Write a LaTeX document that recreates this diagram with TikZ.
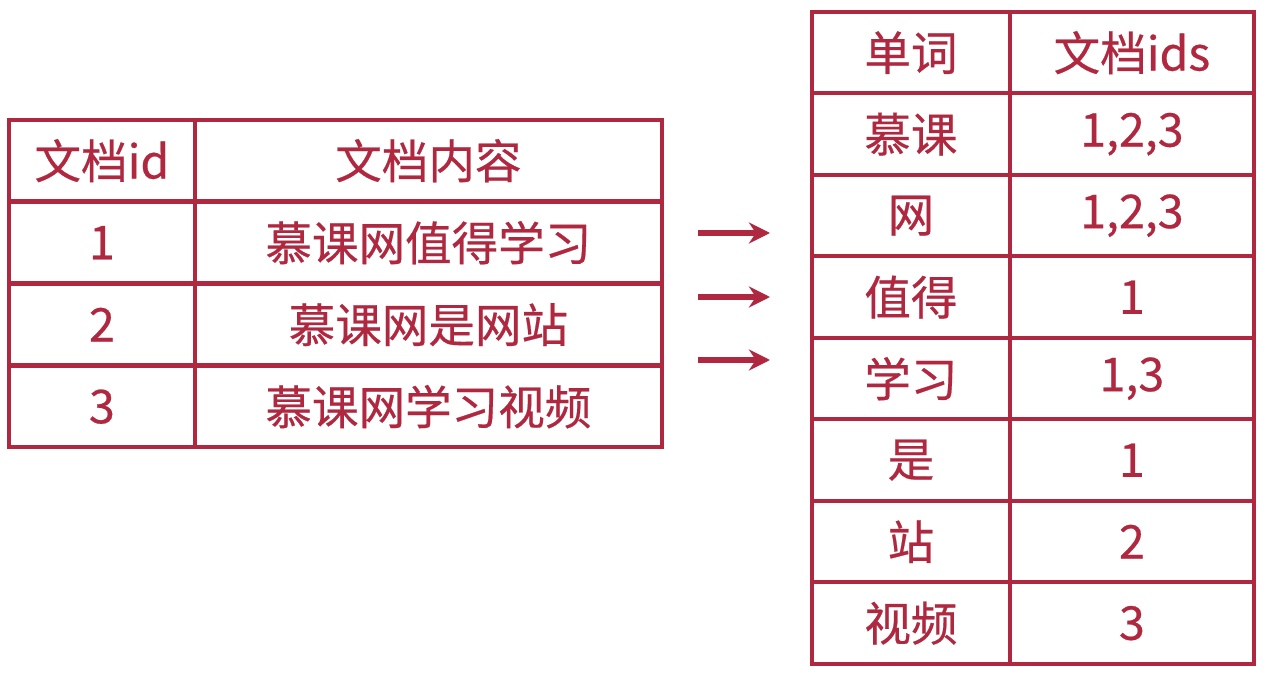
\documentclass[tikz,border=0pt]{standalone}
\usepackage{fontspec}
\setmainfont{Noto Sans CJK SC}[FakeBold=0.5]
\usetikzlibrary{arrows.meta}
\definecolor{wine}{HTML}{B0283F}
\tikzset{
  cell/.style={draw=wine, line width=2.2pt, text=wine, font=\fontsize{26.5}{28}\selectfont,
    minimum height=1.63cm, inner sep=0pt, anchor=north west},
  pointer/.style={draw=wine, line width=3pt, -{Stealth[length=12pt, width=12pt]}},
}
\begin{document}
\begin{tikzpicture}[x=0.02cm, y=-0.02cm]
  \useasboundingbox (0,0) rectangle (1280,678);
  % left table
  \foreach \a/\b [count=\y from 0] in {文档id/文档内容, 1/慕课网值得学习, 2/慕课网是网站, 3/慕课网学习视频}
  {
    \node [cell, minimum width=3.72cm] (doc-id-\y) at (7, 118 + 82*\y) {\a};
    \node [cell, minimum width=9.34cm] (doc-text-\y) at (193, 118 + 82*\y) {\b};
  }

  % right table
  \foreach \a/\b [count=\y from 0] in {单词/文档ids, 慕课/{1,2,3}, 网/{1,2,3}, 值得/1, 学习/{1,3}, 是/1, 站/2, 视频/3}
  {
    \node [cell, minimum width=3.96cm] (word-\y) at (810, 10 + 81.5*\y) {\a};
    \node [cell, minimum width=4.88cm] (ids-\y) at (1008, 10 + 81.5*\y) {\b};
  }

  % arrows
  \foreach \h [count=\i] in {233, 297, 360}
  {
    \coordinate (from-\i) at (698, \h);
    \coordinate (to-\i) at (770, \h);
    \draw [pointer] (from-\i) -- (to-\i);
  }
\end{tikzpicture}
\end{document}
